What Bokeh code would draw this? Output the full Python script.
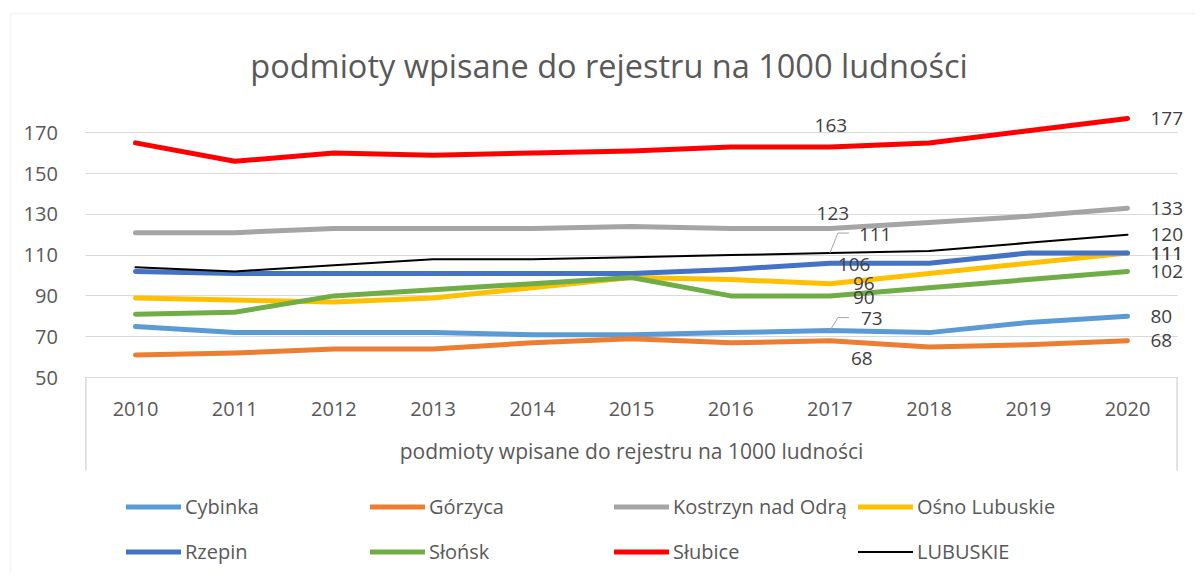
from bokeh.plotting import figure
from bokeh.models import (Range1d, FixedTicker, ColumnDataSource, LabelSet, Label,
                          Legend, LegendItem, BoxAnnotation)
from bokeh.core.properties import value
from bokeh.embed import file_html
from bokeh.resources import INLINE

# ---------------- data ----------------
title_text = "podmioty wpisane do rejestru na 1000 ludności"
axis_title = "podmioty wpisane do rejestru na 1000 ludności"
years = ["2010", "2011", "2012", "2013", "2014", "2015", "2016", "2017", "2018", "2019", "2020"]
y_ticks = [50, 70, 90, 110, 130, 150, 170]

series_names = ["Cybinka", "Górzyca", "Kostrzyn nad Odrą", "Ośno Lubuskie",
                "Rzepin", "Słońsk", "Słubice", "LUBUSKIE"]
cybinka = [75, 72, 72, 72, 71, 71, 72, 73, 72, 77, 80]
gorzyca = [61, 62, 64, 64, 67, 69, 67, 68, 65, 66, 68]
kostrzyn = [121, 121, 123, 123, 123, 124, 123, 123, 126, 129, 133]
osno = [89, 88, 87, 89, 94, 99, 98, 96, 101, 106, 111]
rzepin = [102, 101, 101, 101, 101, 101, 103, 106, 106, 111, 111]
slonsk = [81, 82, 90, 93, 96, 99, 90, 90, 94, 98, 102]
slubice = [165, 156, 160, 159, 160, 161, 163, 163, 165, 171, 177]
lubuskie = [104, 102, 105, 108, 108, 109, 110, 111, 112, 116, 120]
series_values = [cybinka, gorzyca, kostrzyn, osno, rzepin, slonsk, slubice, lubuskie]

# ---------------- styles ----------------
colors = ["#5B9BD5", "#ED7D31", "#A5A5A5", "#FFC000", "#4472C4", "#70AD47", "#FF0000", "#000000"]
widths = [5, 5, 5, 5, 5, 5, 5, 2]
TXT = "#595959"
LBL = "#404040"
GRID = "#d9d9d9"
FONT = "Open Sans"

# label placement (pixels) for 2017 and 2020 points
i17, i20 = 7, 10
dx17 = [31, 21, 3, 23, 8, 23, 1, 29]
dy17 = [12, -18, 15, 0, -1, -2, 21, 19]
al17 = ["left", "left", "center", "left", "left", "left", "center", "left"]
dx20, dy20 = 23, 0

# ---------------- geometry (pixels) ----------------
W, H = 1195, 573
PL, PR = 85.4, 1176.6          # plot area left/right
PB, PT = 377.0, 111.8          # plot area bottom (value 50) / top (value 180)
x_lo, x_hi, y_lo, y_hi = -0.5, 10.5, 50, 180
ppx = (PR - PL) / (x_hi - x_lo)
ppy = (PB - PT) / (y_hi - y_lo)
x_start = x_lo - PL / ppx
x_end = x_start + W / ppx
y_top = y_lo + PB / ppy
y_bot = y_top - H / ppy


def X(px):
    return x_start + px / ppx


def Y(py):
    return y_top - py / ppy


p = figure(width=W, height=H, x_range=Range1d(x_start, x_end), y_range=Range1d(y_bot, y_top),
           output_backend="svg", toolbar_location=None,
           min_border=0, min_border_left=0, min_border_right=0, min_border_top=0, min_border_bottom=0,
           background_fill_color="white", border_fill_color="white", outline_line_color=None)
p.title.visible = False

# axes at fixed locations
xa = p.xaxis[0]
xa.fixed_location = y_lo
xa.bounds = (x_lo, x_hi)
xa.ticker = FixedTicker(ticks=list(range(len(years))))
xa.major_label_overrides = {i: y for i, y in enumerate(years)}
xa.major_label_text_font = FONT
xa.major_label_text_font_size = "20px"
xa.major_label_text_color = TXT
xa.major_label_standoff = 18
xa.axis_label = axis_title
xa.axis_label_text_font = FONT
xa.axis_label_text_font_size = "21px"
xa.axis_label_text_font_style = "normal"
xa.axis_label_text_color = TXT
xa.axis_label_standoff = 18
xa.axis_line_color = GRID
xa.major_tick_line_color = None
xa.minor_tick_line_color = None
p.xgrid.visible = False

ya = p.yaxis[0]
ya.fixed_location = x_lo
ya.bounds = (y_lo, y_hi)
ya.ticker = FixedTicker(ticks=y_ticks)
ya.major_label_text_font = FONT
ya.major_label_text_font_size = "20px"
ya.major_label_text_color = TXT
ya.major_label_standoff = 22
ya.axis_line_color = None
ya.major_tick_line_color = None
ya.minor_tick_line_color = None

g = p.ygrid[0]
g.ticker = FixedTicker(ticks=y_ticks)
g.grid_line_color = GRID
g.grid_line_width = 1
try:
    g.cross_bounds = (x_lo, x_hi)
except Exception:
    g.visible = False
    ya.major_tick_in = int(PR - PL)
    ya.major_tick_out = 0
    ya.major_tick_line_color = GRID

# chart border
p.add_layout(BoxAnnotation(left=X(10), right=X(W + 50), top=Y(13), bottom=Y(H + 50),
                           fill_alpha=0, line_color=GRID, line_width=1.5, level="underlay"))
# category-axis separators
p.segment(x0=[x_lo, x_hi], y0=[y_lo, y_lo], x1=[x_lo, x_hi], y1=[Y(470), Y(470)],
          line_color=GRID, line_width=1.5)

# lines
xs_idx = list(range(len(years)))
renderers = []
for vals, c, w in zip(series_values, colors, widths):
    r = p.line(xs_idx, vals, line_color=c, line_width=w, line_cap="round", line_join="round")
    renderers.append(r)

# leader lines (LUBUSKIE and Cybinka at 2017)
lx, ly = [], []
for si, up in ((7, 20), (0, 13)):
    v = series_values[si][i17]
    lx.append([i17, i17 + 8 / ppx, i17 + 19 / ppx])
    ly.append([v, v + up / ppy, v + up / ppy])
p.multi_line(lx, ly, line_color="#a6a6a6", line_width=1)

# data labels
rows = {"left": dict(x=[], y=[], t=[], dx=[], dy=[]), "center": dict(x=[], y=[], t=[], dx=[], dy=[])}
for si, vals in enumerate(series_values):
    d = rows[al17[si]]
    d["x"].append(i17); d["y"].append(vals[i17]); d["t"].append(str(vals[i17]))
    d["dx"].append(dx17[si]); d["dy"].append(dy17[si])
    d = rows["left"]
    d["x"].append(i20); d["y"].append(vals[i20]); d["t"].append(str(vals[i20]))
    d["dx"].append(dx20); d["dy"].append(dy20)
for align, d in rows.items():
    src = ColumnDataSource(d)
    p.add_layout(LabelSet(x="x", y="y", text="t", source=src, x_offset="dx", y_offset="dy",
                          text_align=align, text_baseline="middle", text_font=value(FONT),
                          text_font_size="19px", text_color=LBL))

# title
p.add_layout(Label(x=X(608.5), y=Y(65), text=title_text, text_align="center",
                   text_baseline="alphabetic", text_font=FONT, text_font_size="32.5px",
                   text_color=TXT))

# legends (4 columns x 2 rows)
ITEM_H, ROW_PITCH = 27, 45
for c in range(4):
    items = [LegendItem(label=series_names[c], renderers=[renderers[c]]),
             LegendItem(label=series_names[c + 4], renderers=[renderers[c + 4]])]
    leg = Legend(items=items, location=(126 + 244 * c, H - (551 + ITEM_H / 2)),
                 orientation="vertical",
                 glyph_width=55, glyph_height=ITEM_H, label_height=ITEM_H, label_standoff=4,
                 spacing=ROW_PITCH - ITEM_H, padding=0, margin=0, border_line_color=None,
                 background_fill_alpha=0, label_text_font=FONT, label_text_font_size="20px",
                 label_text_color=TXT)
    p.add_layout(leg)

open("out.html", "w").write(file_html(p, INLINE))
